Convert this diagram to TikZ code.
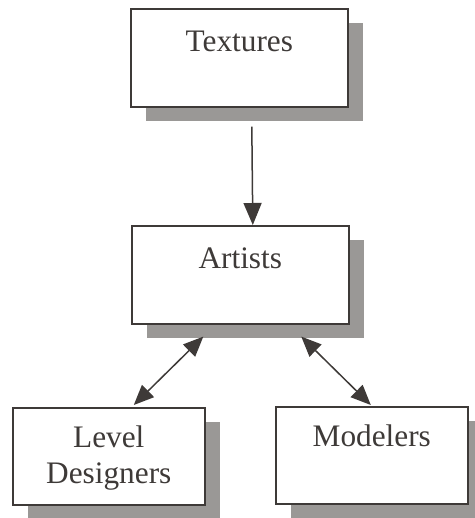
\documentclass[tikz,border=0pt]{standalone}
\usepackage{fontspec}
\setmainfont{Liberation Serif}
\usetikzlibrary{arrows.meta,shadows}
\definecolor{ink}{HTML}{3E3A38}
\definecolor{shade}{HTML}{9A9896}
\tikzset{
  box/.style={draw=ink, line width=1.6pt, fill=white, inner sep=0pt,
    text=ink, font=\fontsize{31.3}{36}\selectfont, align=center,
    drop shadow={shadow xshift=15pt, shadow yshift=-14pt, fill=shade, opacity=1},
    anchor=north west},
  wide/.style={text width=217pt, text height=43pt, text depth=55pt},
  narrow/.style={text width=192pt, text height=40pt, text depth=57pt},
  link/.style={draw=ink, line width=1.5pt},
  head/.style={-{Triangle[length=22pt,width=18pt]}},
  both/.style={{Triangle[length=20pt,width=17pt]}-{Triangle[length=20pt,width=17pt]}}
}
\begin{document}
\begin{tikzpicture}[x=1pt,y=-1pt]
  \useasboundingbox (0,0) rectangle (474,518);
  \node[box,wide]   (tex) at (130,8)   {Textures};
  \node[box,wide]   (art) at (131,225) {Artists};
  \node[box,narrow] (lvl) at (12,407)  {Level\\Designers};
  \node[box,narrow] (mod) at (275,406) {Modelers};

  \draw[link,head] ([xshift=12.5pt,yshift=-19pt]tex.south) -- ([xshift=12.5pt]art.north);
  \draw[link,both] ([xshift=-37pt,yshift=-12pt]art.south) -- ([xshift=25pt,yshift=2pt]lvl.north);
  \draw[link,both] ([xshift=61pt,yshift=-12pt]art.south) -- ([xshift=-1pt,yshift=1pt]mod.north);
\end{tikzpicture}
\end{document}
